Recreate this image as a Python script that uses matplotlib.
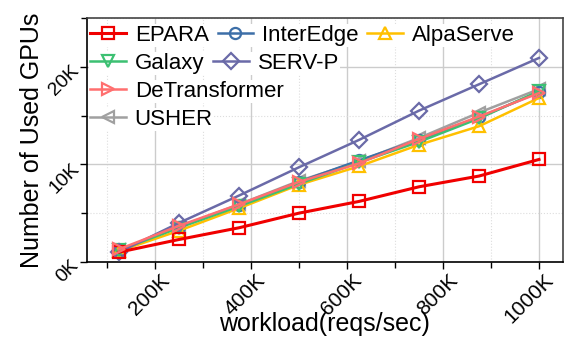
import matplotlib
matplotlib.use('Agg')
import matplotlib.pyplot as plt
import matplotlib.transforms as mtransforms
from matplotlib.ticker import MultipleLocator, FuncFormatter

plt.rcParams['font.family'] = ['Liberation Sans', 'DejaVu Sans']

# Data (workload in reqs/sec, GPUs used)
workload = [125000, 250000, 375000, 500000, 625000, 750000, 875000, 1000000]
epara = [1000, 2300, 3500, 5000, 6200, 7700, 8800, 10500]
interedge = [1200, 3600, 5800, 8200, 10400, 12500, 14800, 17400]
alpaserve = [1100, 3200, 5500, 7900, 9800, 12000, 13900, 16800]
galaxy = [1200, 3500, 5700, 8000, 10200, 12300, 14700, 17500]
servp = [1000, 4000, 6800, 9700, 12500, 15500, 18200, 20900]
detransformer = [1300, 3700, 5900, 8200, 10100, 12600, 14900, 17300]
usher = [1200, 3600, 5900, 8300, 10300, 12700, 15300, 17700]

series = [
    ('EPARA', epara, '#f00000', 's', 8, 2.2),
    ('InterEdge', interedge, '#3d6fa8', 'o', 8, 1.8),
    ('AlpaServe', alpaserve, '#ffc000', '^', 9, 1.8),
    ('Galaxy', galaxy, '#3cc072', 'v', 9, 1.8),
    ('SERV-P', servp, '#6a6aa8', 'D', 8, 1.8),
    ('DeTransformer', detransformer, '#ff6f6f', '>', 9, 1.8),
    ('USHER', usher, '#a0a0a0', '<', 9, 1.8),
]

fig = plt.figure(figsize=(5.71, 3.38), dpi=100)
ax = fig.add_axes([0.152, 0.225, 0.834, 0.722])

handles = {}
zorders = {'EPARA': 5, 'InterEdge': 3, 'AlpaServe': 3, 'Galaxy': 3,
           'SERV-P': 3, 'DeTransformer': 6, 'USHER': 2}
for name, vals, color, marker, ms, lw in series:
    h, = ax.plot(workload, vals, color=color, marker=marker, markersize=ms,
                 markerfacecolor='none', markeredgewidth=1.6, linewidth=lw,
                 label=name, zorder=zorders[name])
    handles[name] = h

ax.set_xlim(58000, 1050000)
ax.set_ylim(0, 25000)
ax.xaxis.set_major_locator(MultipleLocator(200000))
ax.xaxis.set_minor_locator(MultipleLocator(100000))
ax.yaxis.set_major_locator(MultipleLocator(10000))
ax.yaxis.set_minor_locator(MultipleLocator(5000))
fmt = FuncFormatter(lambda v, p: f'{int(round(v / 1000))}K')
ax.xaxis.set_major_formatter(fmt)
ax.yaxis.set_major_formatter(fmt)

ax.grid(which='major', color='#cccccc', linewidth=1.0, linestyle='-')
ax.grid(which='minor', color='#dddddd', linewidth=0.8, linestyle=':')
ax.set_axisbelow(True)

ax.tick_params(axis='x', which='major', labelsize=15, length=5, width=1, pad=1)
ax.tick_params(axis='y', which='major', labelsize=14, length=5, width=1)
ax.tick_params(axis='both', which='minor', length=4, width=1)
shift = mtransforms.ScaledTranslation(5 / 100, 0, fig.dpi_scale_trans)
for tick in ax.xaxis.get_major_ticks():
    lab = tick.label1
    lab.set_rotation(45)
    lab.set_ha('right')
    lab.set_rotation_mode('anchor')
    lab.set_transform(lab.get_transform() + shift)
for lab in ax.get_yticklabels():
    lab.set_rotation(45)
    lab.set_ha('right')
    lab.set_rotation_mode('anchor')

for side in ['left', 'bottom']:
    ax.spines[side].set_color('black')
    ax.spines[side].set_linewidth(1.2)
for side in ['top', 'right']:
    ax.spines[side].set_color('#444444')
    ax.spines[side].set_linewidth(1.2)

ax.set_xlabel('workload(reqs/sec)', fontsize=18)
ax.set_ylabel('Number of Used GPUs', fontsize=18)
ax.xaxis.set_label_coords(0.5, -0.205)
ax.yaxis.set_label_coords(-0.09, 0.5)

# Legend laid out as rows, each a separate legend
rows = [['EPARA', 'InterEdge', 'AlpaServe'], ['Galaxy', 'SERV-P'],
        ['DeTransformer'], ['USHER']]
dy = 28 / 244
for i, row in enumerate(rows):
    leg = ax.legend([handles[n] for n in row], row, ncol=len(row),
                    loc='upper left', bbox_to_anchor=(0.005, 0.975 - i * dy),
                    fontsize=16, frameon=True, framealpha=1, facecolor='white',
                    edgecolor='none', borderpad=0.05, borderaxespad=0,
                    handlelength=1.6, handletextpad=0.4, columnspacing=0.4,
                    fancybox=False)
    leg.set_zorder(10)
    ax.add_artist(leg)

fig.savefig('out.png', dpi=100)
